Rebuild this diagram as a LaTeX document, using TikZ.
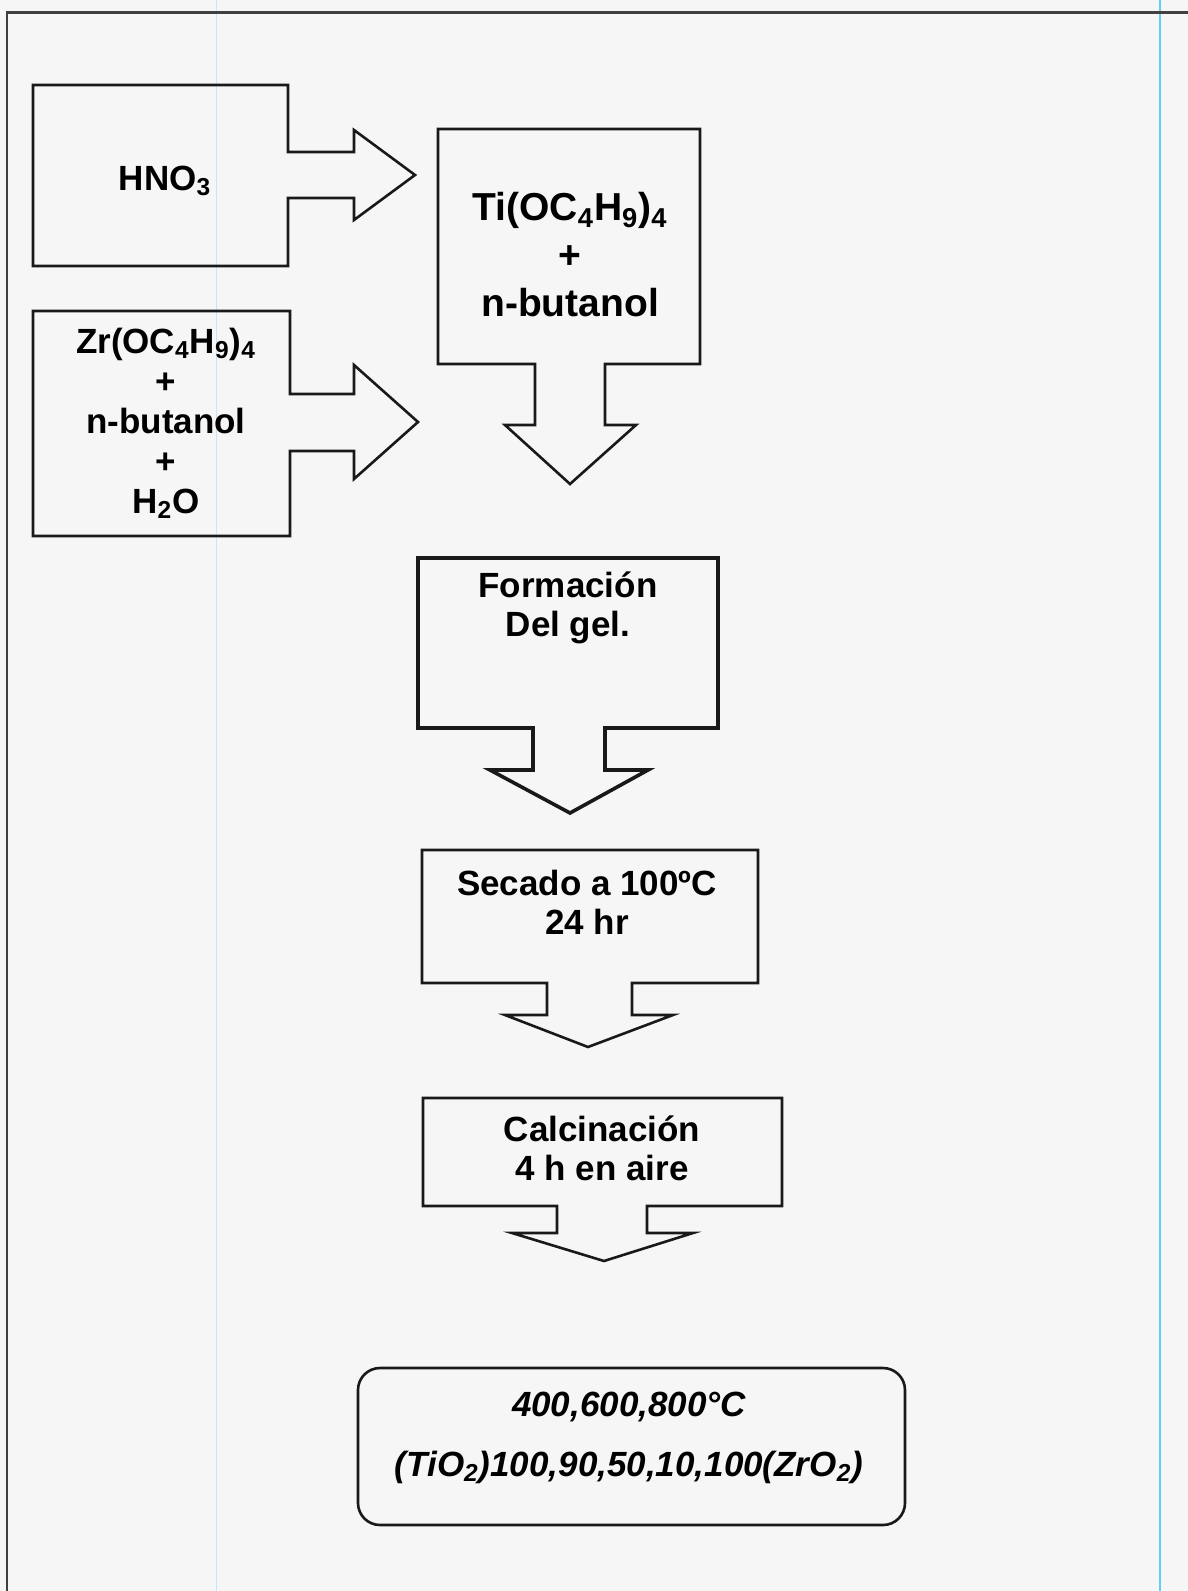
\documentclass[tikz,border=0pt]{standalone}
\usepackage{fontspec}
\setmainfont{Liberation Sans}
\begin{document}
\begin{tikzpicture}[x=0.5pt,y=-0.5pt,
		txt/.style={font=\bfseries\fontsize{17.5}{20}\selectfont, align=center, inner sep=0pt},
		outl/.style={draw=black!90, line width=1.3pt, line join=miter}]
			\useasboundingbox (0,0) rectangle (1188,1591);
			\fill[gray!7] (0,0) rectangle (1188,1591);
			\draw[cyan!25, line width=0.4pt] (216,0) -- (216,1591);
			\draw[cyan!60, line width=0.6pt] (1160,0) -- (1160,1591);
			\draw[black!75, line width=1.3pt] (7,1591) -- (7,12.5) -- (1188,12.5);
			\draw[outl](288,152) -- (288,85) -- (33,85) -- (33,266) -- (288,266) -- (288,198) -- (354,198) -- (354,220) -- (415,175) -- (354,130) -- (354,152) -- cycle;
			\draw[outl](290,394) -- (290,311) -- (33,311) -- (33,536) -- (290,536) -- (290,451) -- (354,451) -- (354,479) -- (418,422) -- (354,365) -- (354,394) -- cycle;
			\draw[outl](535,364) -- (438,364) -- (438,129) -- (700,129) -- (700,364) -- (605,364) -- (605,425) -- (636,425) -- (570,484) -- (505,425) -- (535,425) -- cycle;
			\draw[outl, line width=1.8pt](533,728) -- (418,728) -- (418,558) -- (718,558) -- (718,728) -- (605,728) -- (605,770) -- (648,770) -- (570,813) -- (490,770) -- (533,770) -- cycle;
			\draw[outl](547,983) -- (422,983) -- (422,850) -- (758,850) -- (758,983) -- (632,983) -- (632,1015) -- (673,1015) -- (588,1047) -- (505,1015) -- (547,1015) -- cycle;
			\draw[outl](557,1206) -- (423,1206) -- (423,1098) -- (782,1098) -- (782,1206) -- (647,1206) -- (647,1233) -- (693,1233) -- (604,1261) -- (512,1233) -- (557,1233) -- cycle;
			\draw[outl, rounded corners=11pt](358,1368) rectangle (905,1525);
			\node[txt] (hno) at (165,181) {HNO\textsubscript{3}};
			\node[txt, font=\bfseries\fontsize{19.5}{24}\selectfont] (ti) at (570,255) {Ti(OC\textsubscript{4}H\textsubscript{9})\textsubscript{4}\\+\\n-butanol};
			\node[txt] (zr) at (166,423) {Zr(OC\textsubscript{4}H\textsubscript{9})\textsubscript{4}\\+\\n-butanol\\+\\H\textsubscript{2}O};
			\node[txt, font=\bfseries\fontsize{17.5}{19.5}\selectfont] (gel) at (568,608) {Formación\\Del gel.};
			\node[txt, font=\bfseries\fontsize{17.5}{19.5}\selectfont] (sec) at (587,902) {Secado a 100ºC\\24 hr};
			\node[txt, font=\bfseries\fontsize{17.5}{19.5}\selectfont] (calc) at (602,1148) {Calcinación\\4 h en aire};
			\node[txt, font=\bfseries\itshape\fontsize{17.5}{30}\selectfont] (res) at (629,1438) {400,600,800°C\\(TiO\textsubscript{2})100,90,50,10,100(ZrO\textsubscript{2})};
		\end{tikzpicture}
\end{document}
